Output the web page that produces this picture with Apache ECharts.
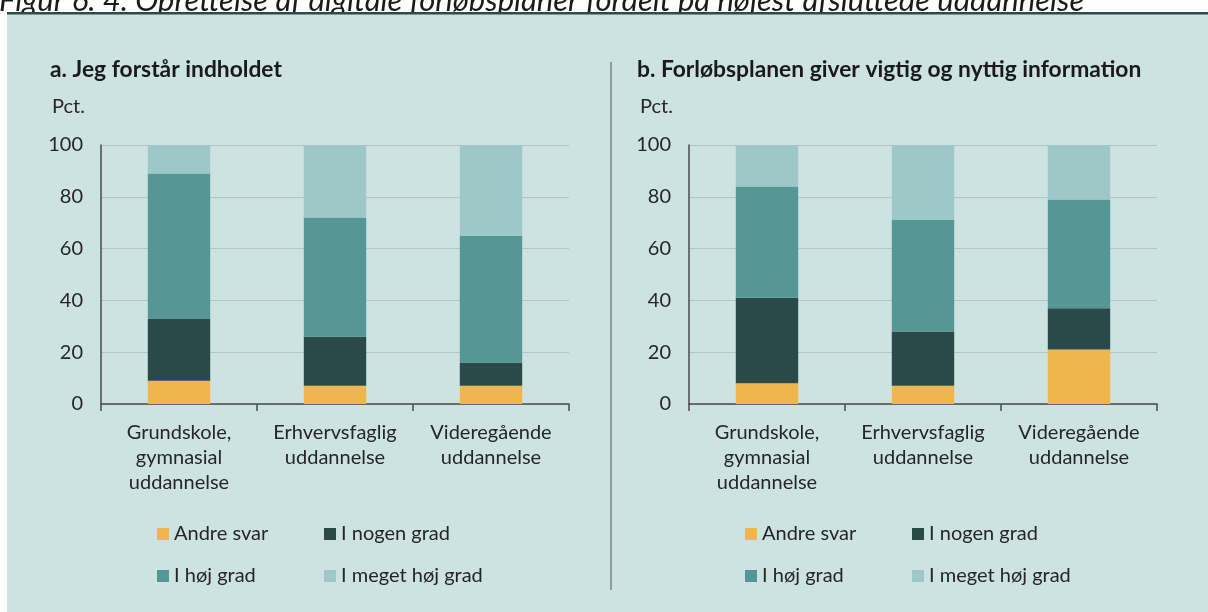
<!DOCTYPE html>
<html>
<head>
<meta charset="utf-8">
<script src="https://cdn.jsdelivr.net/npm/echarts@6/dist/echarts.min.js"></script>
<style>
  html, body { margin: 0; padding: 0; background: #ffffff; }
  #chart { width: 1208px; height: 612px; }
</style>
</head>
<body>
<div id="chart"></div>
<script>
// ---- data ----
const figureTitle = 'Figur 6. 4. Oprettelse af digitale forløbsplaner fordelt på højest afsluttede uddannelse';
const titleA = 'a. Jeg forstår indholdet';
const titleB = 'b. Forløbsplanen giver vigtig og nyttig information';
const unitLabel = 'Pct.';
const categories = ['Grundskole,\ngymnasial\nuddannelse', 'Erhvervsfaglig\nuddannelse', 'Videregående\nuddannelse'];
const seriesNames = ['Andre svar', 'I nogen grad', 'I høj grad', 'I meget høj grad'];
const yTicks = [0, 20, 40, 60, 80, 100];

// Panel a: Jeg forstår indholdet
const aAndreSvar = [9, 7, 7];
const aNogenGrad = [24, 19, 9];
const aHojGrad = [56, 46, 49];
const aMegetHojGrad = [11, 28, 35];

// Panel b: Forløbsplanen giver vigtig og nyttig information
const bAndreSvar = [8, 7, 21];
const bNogenGrad = [33, 21, 16];
const bHojGrad = [43, 43, 42];
const bMegetHojGrad = [16, 29, 21];

// ---- styling ----
const colors = ['#f0b54e', '#2a4a4a', '#549794', '#9ec8c8'];
const panelBg = '#cde3e1';
const textColor = '#262626';
const FONT = 'Lato, "Open Sans", sans-serif';
const LABEL_SIZE = 20;

const chart = echarts.init(document.getElementById('chart'), null, { renderer: 'canvas' });

const gridLefts = [101, 689];
const gridWidth = 468;
const gridTop = 145;
const gridHeight = 259;

function xAxisFor(i) {
  return {
    type: 'category', gridIndex: i, data: categories,
    axisLine: { show: true, lineStyle: { color: '#4a4a4a', width: 1.5 } },
    axisTick: { show: true, length: 7, lineStyle: { color: '#4a4a4a', width: 1.5 } },
    axisLabel: { color: textColor, fontFamily: FONT, fontSize: LABEL_SIZE, lineHeight: 25, margin: 16, interval: 0 }
  };
}
function yAxisFor(i) {
  return {
    type: 'value', gridIndex: i, min: 0, max: yTicks[yTicks.length - 1], interval: yTicks[1] - yTicks[0],
    axisLine: { show: true, lineStyle: { color: '#4a4a4a', width: 1.5 } },
    axisTick: { show: false },
    splitLine: { show: true, lineStyle: { color: '#b5c4c3', width: 1.2 } },
    axisLabel: { color: textColor, fontFamily: FONT, fontSize: LABEL_SIZE, margin: 18 }
  };
}

const panelData = [
  [aAndreSvar, aNogenGrad, aHojGrad, aMegetHojGrad],
  [bAndreSvar, bNogenGrad, bHojGrad, bMegetHojGrad]
];

const series = [];
panelData.forEach((sets, gi) => {
  sets.forEach((vals, si) => {
    series.push({
      type: 'bar', name: seriesNames[si], stack: 'p' + gi,
      xAxisIndex: gi, yAxisIndex: gi, data: vals,
      barWidth: '40%',
      itemStyle: { color: colors[si] },
      emphasis: { disabled: true },
      z: 3
    });
  });
});

// legends: 2x2 grid per panel
const legends = [];
const legendCols = [56, 223];   // offset of symbol from grid left
const legendRows = [524, 566];   // top of legend item
gridLefts.forEach((gl) => {
  seriesNames.forEach((name, k) => {
    legends.push({
      data: [name], left: gl + legendCols[k % 2], top: legendRows[Math.floor(k / 2)],
      padding: 0, itemWidth: 12, itemHeight: 12, icon: 'rect', selectedMode: false,
      textStyle: { color: textColor, fontFamily: FONT, fontSize: LABEL_SIZE, lineHeight: 20, padding: 0 }
    });
  });
});

const option = {
  backgroundColor: '#ffffff',
  animation: false,
  color: colors,
  title: [
    { text: titleA, left: 50, top: 58, padding: 0,
      textStyle: { color: '#1a1a1a', fontFamily: FONT, fontSize: 22.8, fontWeight: 'bold' } },
    { text: titleB, left: 637, top: 58, padding: 0,
      textStyle: { color: '#1a1a1a', fontFamily: FONT, fontSize: 22.8, fontWeight: 'bold' } }
  ],
  grid: gridLefts.map(l => ({ left: l, top: gridTop, width: gridWidth, height: gridHeight, containLabel: false })),
  xAxis: [xAxisFor(0), xAxisFor(1)],
  yAxis: [yAxisFor(0), yAxisFor(1)],
  legend: legends,
  series: series,
  graphic: [
    { type: 'text', z: -101, silent: true, x: -1, y: 16,
      style: { text: figureTitle, fill: '#1a1a1a', font: 'italic 31px ' + FONT, verticalAlign: 'bottom', align: 'left' } },
    { type: 'rect', z: -100, silent: true, shape: { x: 7, y: 12, width: 1201, height: 600 }, style: { fill: panelBg } },
    { type: 'rect', z: -99, silent: true, shape: { x: 7, y: 12, width: 1201, height: 2.5 }, style: { fill: '#2c4b4b' } },
    { type: 'line', z: -98, silent: true, shape: { x1: 611, y1: 62, x2: 611, y2: 590 }, style: { stroke: '#555555', lineWidth: 1 } },
    { type: 'text', z: 5, silent: true, x: 52, y: 107,
      style: { text: unitLabel, fill: textColor, font: LABEL_SIZE + 'px ' + FONT, verticalAlign: 'middle' } },
    { type: 'text', z: 5, silent: true, x: 640, y: 107,
      style: { text: unitLabel, fill: textColor, font: LABEL_SIZE + 'px ' + FONT, verticalAlign: 'middle' } }
  ]
};

chart.setOption(option);
</script>
</body>
</html>
